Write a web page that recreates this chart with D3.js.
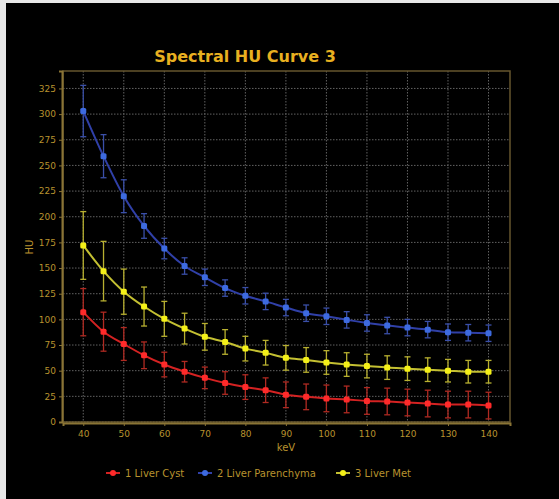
<!DOCTYPE html>
<html lang="en">
<head>
<meta charset="utf-8">
<title>Spectral HU Curve 3</title>
<script src="https://d3js.org/d3.v7.min.js"></script>
<style>
  body { margin: 0; background: #e8e8e8; }
  svg { display: block; }
  text { font-family: "DejaVu Sans", sans-serif; }
</style>
</head>
<body>
<svg id="chart" width="559" height="499"></svg>
<script>
// data
var kev = [40, 45, 50, 55, 60, 65, 70, 75, 80, 85, 90, 95, 100, 105, 110, 115, 120, 125, 130, 135, 140];
var cystHU = [107, 88, 76, 65, 56, 49, 43, 38, 34, 31, 26.5, 24.5, 23, 22, 20.5, 20, 19, 18, 17, 17, 16];
var cystErr = [23, 19, 16, 13, 12, 10, 10.5, 11, 12, 12, 12.5, 12.5, 13, 13, 13, 13, 13, 13, 13, 13, 13];
var parenHU = [303, 259, 220, 191, 169, 152, 141, 130.5, 123, 117.5, 111.5, 106, 103, 99.5, 96.5, 94, 92, 90, 87.5, 87, 86.5];
var parenErr = [25, 21, 16, 12, 10, 8, 8, 8, 8, 8, 8, 8, 8, 8, 8, 8, 8, 8, 8, 8, 8];
var metHU = [172, 147, 127, 112.5, 100.5, 91, 83, 78, 71.5, 67.5, 62.5, 60.5, 58, 56, 54.5, 53, 52, 51, 50, 49, 49];
var metErr = [33, 29, 22, 19, 17, 15, 13, 12, 12, 12, 12, 12, 11.5, 11.5, 11.5, 11.5, 11.5, 11.5, 11, 11, 11];
var yTicks = [0, 25, 50, 75, 100, 125, 150, 175, 200, 225, 250, 275, 300, 325];
var xTicks = [40, 50, 60, 70, 80, 90, 100, 110, 120, 130, 140];
var seriesNames = ["1 Liver Cyst", "2 Liver Parenchyma", "3 Liver Met"];

var series = [
  { name: seriesNames[0], vals: cystHU, err: cystErr, line: "#d42222", dot: "#ff2a2a", bar: "#b02a22" },
  { name: seriesNames[1], vals: parenHU, err: parenErr, line: "#3040a8", dot: "#3d6ae0", bar: "#3a4fa8" },
  { name: seriesNames[2], vals: metHU, err: metErr, line: "#c4c032", dot: "#f4f018", bar: "#b8b030" }
];

var gold = "#e8b020";
var tickCol = "#b8922e";

var svg = d3.select("#chart");
svg.append("rect").attr("x", 6).attr("y", 3).attr("width", 553).attr("height", 496).attr("fill", "#000");

var plotL = 63, plotR = 510, plotT = 71, plotB = 422;

var x = d3.scaleLinear().domain([35, 145.3]).range([plotL, plotR]);
var y = d3.scaleLinear().domain([0, 342]).range([plotB, plotT]);

// grid
var grid = svg.append("g");
grid.selectAll("line.h").data(yTicks).enter().append("line")
  .attr("x1", plotL).attr("x2", plotR)
  .attr("y1", d => y(d)).attr("y2", d => y(d))
  .attr("stroke", "#626262").attr("stroke-width", 1).attr("stroke-dasharray", "1.5,1.5");
grid.selectAll("line.v").data(xTicks).enter().append("line")
  .attr("y1", plotT).attr("y2", plotB)
  .attr("x1", d => x(d)).attr("x2", d => x(d))
  .attr("stroke", "#626262").attr("stroke-width", 1).attr("stroke-dasharray", "1.5,1.5");

// plot frame
svg.append("rect").attr("x", plotL).attr("y", plotT).attr("width", plotR - plotL).attr("height", plotB - plotT)
  .attr("fill", "none").attr("stroke", "#66562e").attr("stroke-width", 1.5);

// axes
var yAxis = svg.append("g").attr("transform", "translate(" + (plotL - 1) + ",0)")
  .call(d3.axisLeft(y).tickValues(yTicks).tickSize(3).tickPadding(3));
var xAxis = svg.append("g").attr("transform", "translate(0," + (plotB + 1) + ")")
  .call(d3.axisBottom(x).tickValues(xTicks).tickSize(3).tickPadding(5));
[yAxis, xAxis].forEach(function (a) {
  a.select(".domain").attr("stroke", "#8a7435").attr("stroke-width", 2);
  a.selectAll(".tick line").attr("stroke", "#8a7435");
  a.selectAll(".tick text").attr("fill", tickCol).style("font-size", "9px");
});

// title and axis labels
svg.append("text").attr("x", 245).attr("y", 62).attr("text-anchor", "middle")
  .attr("fill", gold).style("font-size", "16px").style("font-weight", "bold")
  .text("Spectral HU Curve 3");
svg.append("text").attr("x", 286).attr("y", 451).attr("text-anchor", "middle")
  .attr("fill", tickCol).style("font-size", "10px").text("keV");
svg.append("text").attr("transform", "translate(33,247) rotate(-90)").attr("text-anchor", "middle")
  .attr("fill", tickCol).style("font-size", "10px").text("HU");

// series
var line = d3.line().x((d, i) => x(kev[i])).y(d => y(d)).curve(d3.curveMonotoneX);
series.forEach(function (s) {
  var g = svg.append("g");
  var rows = s.vals.map((v, i) => ({ k: kev[i], v: v, e: s.err[i] }));
  var eb = g.selectAll("g.eb").data(rows).enter().append("g")
    .attr("stroke", s.bar).attr("stroke-width", 1.3);
  eb.append("line").attr("x1", d => x(d.k)).attr("x2", d => x(d.k))
    .attr("y1", d => y(d.v - d.e)).attr("y2", d => y(d.v + d.e));
  eb.append("line").attr("x1", d => x(d.k) - 3).attr("x2", d => x(d.k) + 3)
    .attr("y1", d => y(d.v + d.e)).attr("y2", d => y(d.v + d.e));
  eb.append("line").attr("x1", d => x(d.k) - 3).attr("x2", d => x(d.k) + 3)
    .attr("y1", d => y(d.v - d.e)).attr("y2", d => y(d.v - d.e));
  g.append("path").datum(s.vals).attr("d", line)
    .attr("fill", "none").attr("stroke", s.line).attr("stroke-width", 2);
  g.selectAll("rect.pt").data(rows).enter().append("rect")
    .attr("x", d => x(d.k) - 3).attr("y", d => y(d.v) - 3)
    .attr("width", 6).attr("height", 6).attr("rx", 1.5)
    .attr("fill", s.dot);
});

// legend
var legX = [106, 198, 336];
var leg = svg.append("g");
series.forEach(function (s, i) {
  var lg = leg.append("g").attr("transform", "translate(" + legX[i] + ",473)");
  lg.append("line").attr("x1", 0).attr("x2", 14).attr("stroke", s.line).attr("stroke-width", 2);
  lg.append("rect").attr("x", 4).attr("y", -3).attr("width", 6).attr("height", 6).attr("rx", 3).attr("fill", s.dot);
  lg.append("text").attr("x", 19).attr("y", 3.5).attr("fill", tickCol).style("font-size", "10px").text(s.name);
});
</script>
</body>
</html>
